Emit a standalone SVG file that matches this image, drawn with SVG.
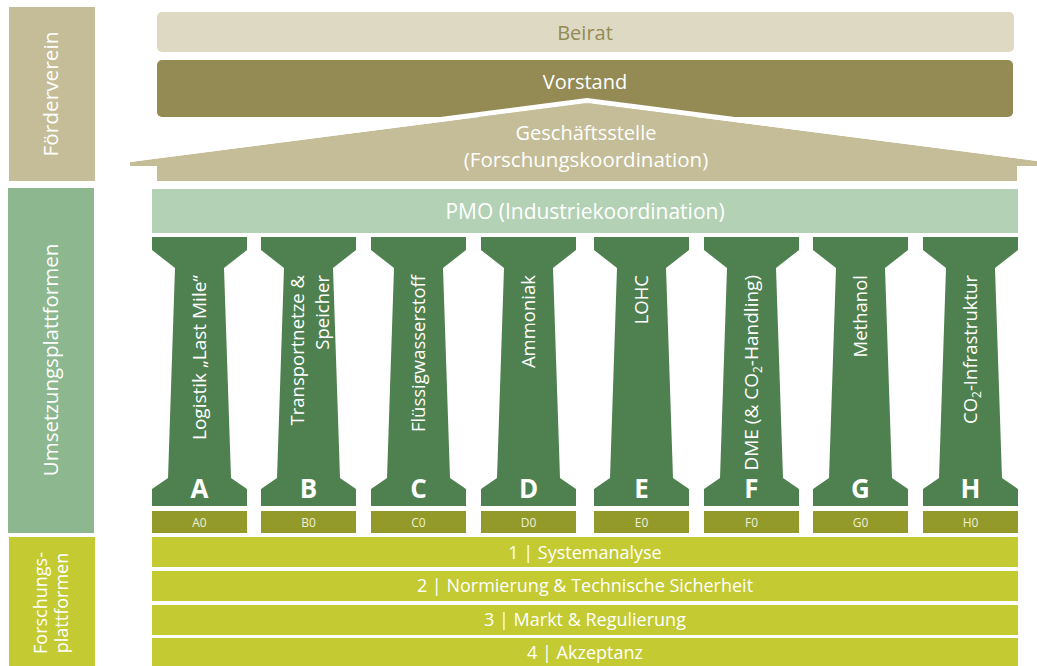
<svg xmlns="http://www.w3.org/2000/svg" width="1037" height="666" viewBox="0 0 1037 666">
<style>
text{font-family:"Open Sans","Noto Sans","DejaVu Sans",sans-serif;fill:#ffffff}
.side1{fill:#c4bd97}
.side2{fill:#8db88f}
.side3{fill:#c3ca32}
.pillar{fill:#4f8150}
.sub{fill:#939a29}
.bar{fill:#c3ca32}
.t20{font-size:20px}
.t18{font-size:18px}
.plab{font-size:18.5px;text-anchor:end}
.big{font-size:26px;font-weight:bold;text-anchor:middle}
.small{font-size:12px;text-anchor:middle;fill:#eef0d8}
.mid{text-anchor:middle}
</style>
<defs>
<path id="pil" d="M0,237 H95 V250 L72,268 L79,478 L95,489 V506 H0 V489 L16,478 L23,268 L0,250 Z"/>
</defs>

<g id="foerderverein">
<rect class="side1" x="9" y="7" width="86" height="174"/>
<text class="mid" style="font-size:20.8px" transform="translate(58,94) rotate(-90)">Förderverein</text>
</g>
<g id="umsetzungsplattformen">
<rect class="side2" x="8" y="188" width="86" height="345"/>
<text class="mid" style="font-size:20.5px" transform="translate(58,360) rotate(-90)">Umsetzungsplattformen</text>
</g>
<g id="forschungsplattformen">
<rect class="side3" x="9" y="537" width="86" height="129"/>
<text class="t18 mid" transform="translate(47,603) rotate(-90)">Forschungs-</text>
<text class="t18 mid" transform="translate(68,603) rotate(-90)">plattformen</text>
</g>

<g id="beirat">
<rect x="157" y="12" width="857" height="40" rx="5" fill="#ddd9c3"/>
<text class="t20 mid" x="585" y="40" style="fill:#948a54">Beirat</text>
</g>
<g id="vorstand">
<rect x="157" y="60" width="856" height="57" rx="5" fill="#948a54"/>
<text class="t20 mid" x="585" y="89">Vorstand</text>
</g>
<g id="geschaeftsstelle">
<polygon points="130,162 587,103 1037,161 1037,166 1017,166 1017,181 157,181 157,166 130,166" fill="#c4bd97"/>
<polyline points="128,159.7 587,100.5 1039,158.7" fill="none" stroke="#ffffff" stroke-width="5"/>
<text class="t20 mid" x="586" y="140">Geschäftsstelle</text>
<text class="mid" style="font-size:20.5px" x="586" y="167">(Forschungskoordination)</text>
</g>
<g id="pmo">
<rect x="152" y="189" width="866" height="44" fill="#b3d1b5"/>
<text class="mid" style="font-size:21px" x="585" y="219">PMO (Industriekoordination)</text>
</g>

<g id="pillar-A">
<use href="#pil" class="pillar" x="152"/>
<text class="plab" style="font-size:19px" transform="translate(206,275) rotate(-90)">Logistik „Last Mile“</text>
<text class="big" x="199.5" y="498">A</text>
<rect class="sub" x="152" y="511" width="95" height="22"/>
<text class="small" x="199.5" y="527">A0</text>
</g>
<g id="pillar-B">
<use href="#pil" class="pillar" x="261"/>
<text class="plab" transform="translate(304,275) rotate(-90)">Transportnetze &amp;</text>
<text class="plab" transform="translate(329,275) rotate(-90)">Speicher</text>
<text class="big" x="308.5" y="498">B</text>
<rect class="sub" x="261" y="511" width="95" height="22"/>
<text class="small" x="308.5" y="527">B0</text>
</g>
<g id="pillar-C">
<use href="#pil" class="pillar" x="371"/>
<text class="plab" transform="translate(425,275) rotate(-90)">Flüssigwasserstoff</text>
<text class="big" x="418.5" y="498">C</text>
<rect class="sub" x="371" y="511" width="95" height="22"/>
<text class="small" x="418.5" y="527">C0</text>
</g>
<g id="pillar-D">
<use href="#pil" class="pillar" x="481"/>
<text class="plab" transform="translate(535,275) rotate(-90)">Ammoniak</text>
<text class="big" x="528.5" y="498">D</text>
<rect class="sub" x="481" y="511" width="95" height="22"/>
<text class="small" x="528.5" y="527">D0</text>
</g>
<g id="pillar-E">
<use href="#pil" class="pillar" x="594"/>
<text class="plab" transform="translate(648,275) rotate(-90)">LOHC</text>
<text class="big" x="641.5" y="498">E</text>
<rect class="sub" x="594" y="511" width="95" height="22"/>
<text class="small" x="641.5" y="527">E0</text>
</g>
<g id="pillar-F">
<use href="#pil" class="pillar" x="704"/>
<text class="plab" style="font-size:19px" transform="translate(758,275) rotate(-90)">DME (&amp; CO<tspan font-size="12" dy="4">2</tspan><tspan dy="-4">-Handling)</tspan></text>
<text class="big" x="751.5" y="498">F</text>
<rect class="sub" x="704" y="511" width="95" height="22"/>
<text class="small" x="751.5" y="527">F0</text>
</g>
<g id="pillar-G">
<use href="#pil" class="pillar" x="813"/>
<text class="plab" transform="translate(867,275) rotate(-90)">Methanol</text>
<text class="big" x="860.5" y="498">G</text>
<rect class="sub" x="813" y="511" width="95" height="22"/>
<text class="small" x="860.5" y="527">G0</text>
</g>
<g id="pillar-H">
<use href="#pil" class="pillar" x="923"/>
<text class="plab" transform="translate(977,275) rotate(-90)">CO<tspan font-size="12" dy="4">2</tspan><tspan dy="-4">-Infrastruktur</tspan></text>
<text class="big" x="970.5" y="498">H</text>
<rect class="sub" x="923" y="511" width="95" height="22"/>
<text class="small" x="970.5" y="527">H0</text>
</g>

<g id="bar-1">
<rect class="bar" x="152" y="537" width="866" height="30"/>
<text class="t18 mid" x="585" y="559">1 | Systemanalyse</text>
</g>
<g id="bar-2">
<rect class="bar" x="152" y="571" width="866" height="30"/>
<text class="t18 mid" x="585" y="592">2 | Normierung &amp; Technische Sicherheit</text>
</g>
<g id="bar-3">
<rect class="bar" x="152" y="605" width="866" height="30"/>
<text class="t18 mid" x="585" y="626">3 | Markt &amp; Regulierung</text>
</g>
<g id="bar-4">
<rect class="bar" x="152" y="638" width="866" height="28"/>
<text class="t18 mid" x="585" y="659">4 | Akzeptanz</text>
</g>
<g id="connectors"/>
</svg>
